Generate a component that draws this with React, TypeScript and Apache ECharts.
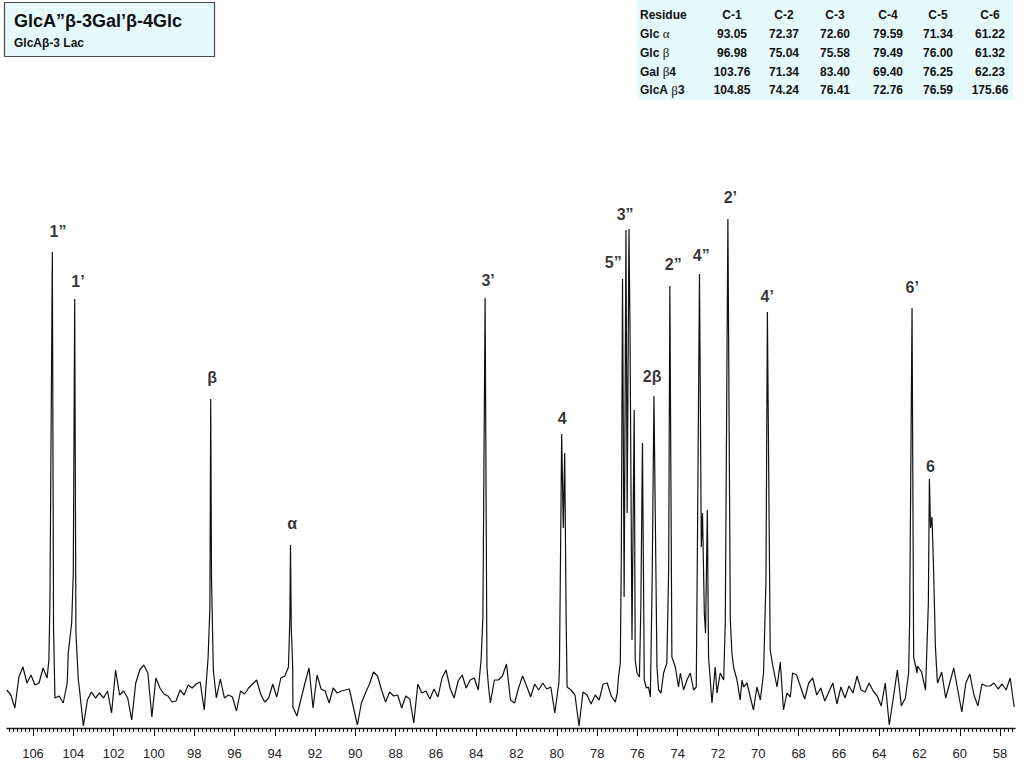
import React, { useEffect, useRef } from "react";
import * as echarts from "echarts";

// ---- Spectrum data (ppm, intensity) ----
// Baseline noise sampled every 0.2 ppm (null = covered by a peak group)
const baselineAStart = 107.3;
const baselineA: (number | null)[] = [
  38, 33, 20, 51, 61, 45, 53, 43, 45, 60,
  50, null, 30, 32, 25, 45, null, null, 40, 2,
  28, 36, 30, 35, 30, 37, 15, 58, 33, 37,
  30, 8, 45, 58, 63, 55, 11, 50, 40, 34,
  32, 26, 27, 38, 33, 43, 40, 44, 46, 18,
  null, null, 30, 49, 30, 33, 31, 17, 37, 34,
  40, 44, 48, 34, 26, 30, 44, 31, 50, 52,
  null, 21, 12, 29, 45, 60, 20, 53, 39, 37,
  25, 40, 35, 37, 38, 39, 21, 3, 25, 35,
  44, 56, 52, 38, 26, 36, 32, 33, 20, 32,
  29, 5, 44, 35, 37, 29, 39, 31, 50, 58,
  40, 30, 47, 53, 40, 48, 50, 38, null, null,
  25, 48, 48, 52, 64, 28, 25, 40, 52, 42,
  31, 44, 38, 45, 39, 41, 15, 45, null, null,
  38, 33, 2, 36, 33, 24, 33, 28, 44, 45,
  32, 26,
];
const baselineBStart = 68.3;
const baselineB: (number | null)[] = [
  55, 53, 41, 29, 45, 50, 33, 40, 27, 36,
  45, 24, 41, 30, 42, 35, 52, 38, 36, 45,
  37, 32, 22, 45, 3, 30, 58, 22, 30, null,
  null, 62, 56, 38, null, null, 45, 56, 30, 45,
  60, 38, 16, 45, 54, 33, 22, 44, 42, 42,
  45, 39, 44, 38, 50, 21,
];

const peakC1GlcA: [number, number][] = [[105.21, 68], [105.16, 125], [105.04, 476], [104.98, 100], [104.91, 30]];
const peakC1Gal: [number, number][] = [[104.25, 75], [104.08, 105], [104.0, 155], [103.93, 429], [103.87, 95], [103.75, 48]];
const peakBeta: [number, number][] = [[97.31, 70], [97.22, 120], [97.18, 329], [97.14, 150], [97.05, 58]];
const peakAlpha: [number, number][] = [[93.32, 61], [93.25, 110], [93.22, 183], [93.18, 100], [93.11, 61]];
const peakC3Gal: [number, number][] = [[83.76, 68], [83.67, 111], [83.56, 430], [83.47, 61], [83.39, 41]];
const peakC4Glc: [number, number][] = [[79.87, 61], [79.83, 145], [79.76, 294], [79.68, 200], [79.61, 275], [79.54, 111], [79.49, 41]];
const clusterA: [number, number][] = [
  [77.0, 35], [76.94, 51], [76.85, 65], [76.8, 171], [76.74, 449], [76.66, 131], [76.57, 498],
  [76.51, 215], [76.42, 499], [76.37, 402], [76.27, 88], [76.16, 318], [76.11, 68], [76.02, 55],
  [75.9, 51], [75.83, 121], [75.75, 285], [75.66, 48], [75.56, 40], [75.45, 41], [75.36, 31],
  [75.27, 145], [75.18, 332], [75.03, 61], [74.95, 38], [74.83, 35],
];
const clusterB: [number, number][] = [
  [74.7, 55], [74.54, 65], [74.45, 158], [74.39, 442], [74.29, 71], [74.12, 61], [73.96, 41],
  [73.87, 55], [73.71, 38], [73.54, 48], [73.38, 55], [73.21, 38], [73.08, 41], [73.02, 188],
  [72.92, 454], [72.83, 181], [72.77, 215], [72.68, 115], [72.62, 95], [72.53, 218], [72.47, 71],
  [72.3, 25], [72.14, 61], [72.05, 35], [71.89, 55], [71.72, 48], [71.64, 105], [71.51, 509],
  [71.39, 108], [71.31, 75], [71.23, 61], [71.06, 48], [70.9, 28], [70.81, 48], [70.73, 41],
  [70.56, 45], [70.4, 31], [70.24, 18], [70.07, 41], [69.9, 28], [69.74, 55], [69.62, 148],
  [69.55, 416], [69.41, 78], [69.27, 61], [69.07, 41], [68.91, 66], [68.75, 18], [68.58, 35],
  [68.41, 31],
];
const peakC6Gal: [number, number][] = [[62.54, 55], [62.49, 105], [62.37, 420], [62.29, 71], [62.12, 55]];
const peakC6Glc: [number, number][] = [[61.63, 81], [61.56, 125], [61.51, 249], [61.45, 200], [61.38, 211], [61.3, 158], [61.21, 81], [61.12, 48]];

// Peak annotations: [label, ppm, intensity]
const peakLabels: [string, number, number][] = [
  ["1\u201d", 104.76, 497],
  ["1\u2019", 103.77, 447],
  ["\u03b2", 97.11, 351],
  ["\u03b1", 93.14, 205],
  ["3\u2019", 83.41, 448],
  ["4", 79.73, 310],
  ["5\u201d", 77.2, 466],
  ["3\u201d", 76.61, 514],
  ["2\u03b2", 75.27, 352],
  ["2\u201d", 74.22, 464],
  ["4\u201d", 72.83, 473],
  ["2\u2019", 71.39, 531],
  ["4\u2019", 69.56, 432],
  ["6\u2019", 62.36, 441],
  ["6", 61.46, 262],
];

// Axis ticks
const majorTicks = [58, 60, 62, 64, 66, 68, 70, 72, 74, 76, 78, 80, 82, 84, 86, 88, 90, 92, 94, 96, 98, 100, 102, 104, 106];

// Table of chemical shifts
const tableColumns = ["C-1", "C-2", "C-3", "C-4", "C-5", "C-6"];
const tableResidues: [string, string, string][] = [
  ["Glc ", "\u03b1", ""],
  ["Glc ", "\u03b2", ""],
  ["Gal ", "\u03b2", "4"],
  ["GlcA ", "\u03b2", "3"],
];
const tableValues = [
  ["93.05", "72.37", "72.60", "79.59", "71.34", "61.22"],
  ["96.98", "75.04", "75.58", "79.49", "76.00", "61.32"],
  ["103.76", "71.34", "83.40", "69.40", "76.25", "62.23"],
  ["104.85", "74.24", "76.41", "72.76", "76.59", "175.66"],
];

const titleMain = "GlcA\u201d\u03b2-3Gal\u2019\u03b2-4Glc";
const titleSub = "GlcA\u03b2-3 Lac";

const FONT = '"Liberation Sans", Arial, Helvetica, sans-serif';

function buildSpectrum(): [number, number][] {
  const pts: [number, number][] = [];
  baselineA.forEach((v, k) => {
    if (v !== null) pts.push([Math.round((baselineAStart - 0.2 * k) * 100) / 100, v]);
  });
  baselineB.forEach((v, k) => {
    if (v !== null) pts.push([Math.round((baselineBStart - 0.2 * k) * 100) / 100, v]);
  });
  [peakC1GlcA, peakC1Gal, peakBeta, peakAlpha, peakC3Gal, peakC4Glc, clusterA, clusterB, peakC6Gal, peakC6Glc].forEach(
    (g) => g.forEach((p) => pts.push([p[0], p[1]]))
  );
  pts.sort((a, b) => b[0] - a[0]);
  return pts;
}

export default function App() {
  const ref = useRef<HTMLDivElement>(null);
  useEffect(() => {
    if (!ref.current) return;
    const chart = echarts.init(ref.current, null, { renderer: "svg" });
    const minorTicks: number[] = [];
    for (let k = 0; k <= 250; k++) minorTicks.push(Math.round((57.4 + 0.2 * k) * 100) / 100);

    const colX = [732, 784, 835, 888, 938, 990];
    const rowY = [14.5, 33.5, 52.5, 71.5, 90];
    const tableTexts: any[] = [];
    tableTexts.push({
      type: "text", x: 640, y: rowY[0],
      style: { text: "Residue", font: `bold 12px ${FONT}`, fill: "#111", align: "left", verticalAlign: "middle" },
    });
    tableColumns.forEach((c, j) => {
      tableTexts.push({
        type: "text", x: colX[j], y: rowY[0],
        style: { text: c, font: `bold 12px ${FONT}`, fill: "#111", align: "center", verticalAlign: "middle" },
      });
    });
    tableResidues.forEach((r, i) => {
      tableTexts.push({
        type: "text", x: 640, y: rowY[i + 1],
        style: {
          text: `{a|${r[0]}}{g|${r[1]}}{a|${r[2]}}`,
          align: "left", verticalAlign: "middle",
          rich: {
            a: { font: `bold 12px ${FONT}`, fill: "#111" },
            g: { font: `13px "Liberation Serif", "Times New Roman", serif`, fill: "#111" },
          },
        },
      });
      tableValues[i].forEach((v, j) => {
        tableTexts.push({
          type: "text", x: colX[j], y: rowY[i + 1],
          style: { text: v, font: `bold 12px ${FONT}`, fill: "#111", align: "center", verticalAlign: "middle" },
        });
      });
    });

    chart.setOption({
      animation: false,
      backgroundColor: "#ffffff",
      grid: { left: 7, right: 9, top: 0, bottom: 40, containLabel: false },
      xAxis: [
        {
          type: "value",
          min: 57.26,
          max: 107.29,
          inverse: true,
          position: "bottom",
          splitLine: { show: false },
          axisLine: { show: true, onZero: false, lineStyle: { color: "#111", width: 1.3 } },
          axisTick: { show: true, length: 8, customValues: majorTicks, lineStyle: { color: "#111", width: 1 } },
          axisLabel: {
            show: true,
            customValues: majorTicks,
            margin: 19,
            color: "#222",
            fontSize: 13,
            fontFamily: FONT,
            formatter: (v: number) => String(Math.round(v)),
          },
        },
        {
          type: "value",
          min: 57.26,
          max: 107.29,
          inverse: true,
          position: "bottom",
          splitLine: { show: false },
          axisLine: { show: false, onZero: false },
          axisTick: { show: true, length: 4, customValues: minorTicks, lineStyle: { color: "#111", width: 1 } },
          axisLabel: { show: false },
        },
      ],
      yAxis: {
        type: "value",
        min: 0,
        max: 728,
        show: false,
        splitLine: { show: false },
      },
      series: [
        {
          type: "line",
          xAxisIndex: 0,
          data: buildSpectrum(),
          showSymbol: false,
          symbol: "none",
          lineStyle: { color: "#111", width: 1.2 },
          silent: true,
          z: 2,
        },
        {
          type: "scatter",
          xAxisIndex: 0,
          symbolSize: 0,
          silent: true,
          itemStyle: { color: "#000" },
          data: peakLabels.map((p) => ({ name: p[0], value: [p[1], p[2]] })),
          label: {
            show: true,
            position: "inside",
            formatter: (p: any) => p.name,
            color: "#000",
            textBorderWidth: 0,
            textBorderColor: "transparent",
            fontSize: 16,
            fontWeight: "bold",
            fontFamily: FONT,
          },
          z: 3,
        },
      ],
      graphic: [
        {
          type: "rect",
          shape: { x: 4.5, y: 2.5, width: 210, height: 54 },
          style: { fill: "#E6F9FC", stroke: "#4a4a4a", lineWidth: 1.2 },
        },
        {
          type: "text", x: 14, y: 21,
          style: { text: titleMain, font: `bold 18px ${FONT}`, fill: "#111", align: "left", verticalAlign: "middle" },
        },
        {
          type: "text", x: 14, y: 43,
          style: { text: titleSub, font: `bold 12px ${FONT}`, fill: "#111", align: "left", verticalAlign: "middle" },
        },
        {
          type: "rect",
          shape: { x: 637, y: 0, width: 376, height: 100 },
          style: { fill: "#E6F9FC" },
          z: -1,
        },
        ...tableTexts,
      ],
    });
    return () => chart.dispose();
  }, []);
  return (
    <div
      ref={ref}
      style={{ position: "fixed", left: 0, top: 0, width: 1024, height: 768, background: "#fff" }}
    />
  );
}
